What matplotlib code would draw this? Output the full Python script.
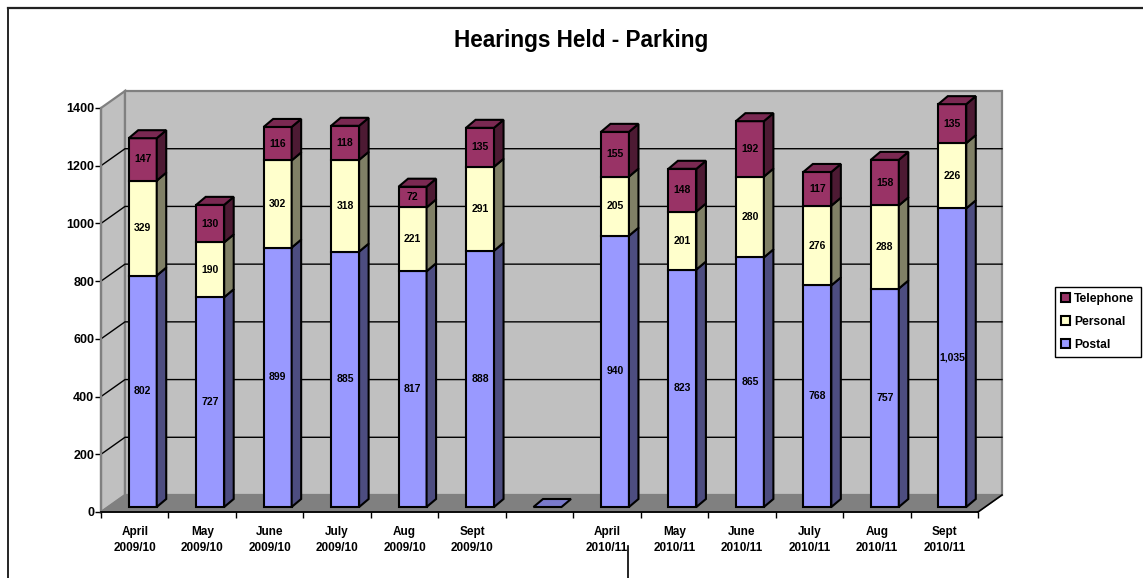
import matplotlib
matplotlib.use('Agg')
import matplotlib.pyplot as plt
from matplotlib.patches import Polygon, Patch
from matplotlib.lines import Line2D

# ---------------- data ----------------
categories = ["April\n2009/10", "May\n2009/10", "June\n2009/10", "July\n2009/10",
              "Aug\n2009/10", "Sept\n2009/10", "",
              "April\n2010/11", "May\n2010/11", "June\n2010/11", "July\n2010/11",
              "Aug\n2010/11", "Sept\n2010/11"]
postal = [802, 727, 899, 885, 817, 888, 0, 940, 823, 865, 768, 757, 1035]
personal = [329, 190, 302, 318, 221, 291, 0, 205, 201, 280, 276, 288, 226]
telephone = [147, 130, 116, 118, 72, 135, 0, 155, 148, 192, 117, 158, 135]
series_names = ["Postal", "Personal", "Telephone"]
y_ticks = [0, 200, 400, 600, 800, 1000, 1200, 1400]
title = "Hearings Held - Parking"

# ---------------- style ----------------
front_col = {"Postal": "#9999FF", "Personal": "#FFFFCC", "Telephone": "#993366"}
side_col = {"Postal": "#4D4D80", "Personal": "#808066", "Telephone": "#4D1A33"}
top_col = {"Postal": "#7A7ACC", "Personal": "#CCCCA3", "Telephone": "#7A2952"}

plt.rcParams['font.family'] = ['Liberation Sans', 'DejaVu Sans']
plt.rcParams['font.weight'] = 'bold'

W, H = 1143, 578
fig = plt.figure(figsize=(W / 100, H / 100), dpi=100)
fig.patch.set_facecolor('white')
ax = fig.add_axes([101 / W, 1 - 512 / H, 877 / W, 404 / H])
n = len(categories)
ymax = y_ticks[-1]
ax.set_xlim(-0.5, n - 0.5)
ax.set_ylim(0, ymax)
ax.patch.set_visible(False)

px_x = 877 / n
px_y = 404 / ymax
wdx, wdy = 24 / px_x, 17 / px_y      # wall depth
bfx, bfy = 8 / px_x, 5 / px_y        # bar front offset
bdx, bdy = 9.5 / px_x, 8 / px_y      # bar depth
bw = 28 / px_x                        # bar width
blw = 1.5                             # bar edge width

L, R = -0.5, n - 0.5
# walls
ax.add_patch(Polygon([(L, 0), (L + wdx, wdy), (L + wdx, ymax + wdy), (L, ymax)],
                     closed=True, fc='#C0C0C0', ec='#808080', lw=1.6, zorder=0.5, clip_on=False))
ax.add_patch(Polygon([(L + wdx, wdy), (R + wdx, wdy), (R + wdx, ymax + wdy), (L + wdx, ymax + wdy)],
                     closed=True, fc='#C0C0C0', ec='#808080', lw=1.6, zorder=0.5, clip_on=False))
# gridlines
for v in y_ticks[1:-1]:
    ax.add_line(Line2D([L, L + wdx, R + wdx], [v, v + wdy, v + wdy], color='black',
                       lw=1.0, zorder=0.7, clip_on=False))
# floor
ax.add_patch(Polygon([(L, 0), (R, 0), (R + wdx, wdy), (L + wdx, wdy)],
                     closed=True, fc='#808080', ec='#808080', lw=1.0, zorder=0.8, clip_on=False))
ax.add_line(Line2D([R, R + wdx], [0, wdy], color='black', lw=1.2, zorder=0.9, clip_on=False))

# bars
data = {"Postal": postal, "Personal": personal, "Telephone": telephone}
for i in range(n):
    cum = 0
    vals = [data[s][i] for s in series_names]
    top_idx = max([k for k, v in enumerate(vals) if v > 0], default=0)
    for k, s in enumerate(series_names):
        h = vals[k]
        b = bfy + cum
        xc = i + bfx
        x0, x1 = xc - bw / 2, xc + bw / 2
        if h > 0:
            ax.bar(xc, h, width=bw, bottom=b, color=front_col[s], edgecolor='black',
                   lw=blw, zorder=3, clip_on=False)
            ax.add_patch(Polygon([(x1, b), (x1 + bdx, b + bdy), (x1 + bdx, b + h + bdy), (x1, b + h)],
                                 closed=True, fc=side_col[s], ec='black', lw=blw, zorder=3,
                                 clip_on=False))
            ax.text(xc, b + h / 2, f"{h:,}", ha='center', va='center', fontsize=7.5,
                    fontweight='bold', zorder=5)
        if k == top_idx:
            t = b + h
            ax.add_patch(Polygon([(x0, t), (x1, t), (x1 + bdx, t + bdy), (x0 + bdx, t + bdy)],
                                 closed=True, fc=top_col[s], ec='black', lw=blw, zorder=3.5,
                                 clip_on=False))
        cum += h

# axes
for sp in ['top', 'right']:
    ax.spines[sp].set_visible(False)
ax.spines['left'].set_color('#808080')
ax.spines['left'].set_linewidth(1.6)
ax.spines['bottom'].set_color('black')
ax.spines['bottom'].set_linewidth(1.3)
ax.set_yticks(y_ticks)
ax.set_yticklabels([str(v) for v in y_ticks])
ax.tick_params(axis='y', length=4, width=1, color='black', pad=1, labelsize=9)
ax.set_xticks(range(n))
ax.set_xticklabels(categories)
ax.set_xticks([i - 0.5 for i in range(n + 1)], minor=True)
ax.tick_params(axis='x', which='major', length=0, pad=10, labelsize=8.5)
ax.tick_params(axis='x', which='minor', length=4.5, width=1, color='black')
for lbl in ax.get_xticklabels():
    lbl.set_linespacing(1.45)
    lbl.set_fontweight('bold')
for lbl in ax.get_yticklabels():
    lbl.set_fontweight('bold')

# title
fig.text(581 / W, 1 - 40 / H, title, ha='center', va='center', fontsize=16.3, fontweight='bold')

# legend
handles = [Patch(facecolor=front_col[s], edgecolor='black', lw=1.5) for s in series_names[::-1]]
leg = fig.legend(handles, series_names[::-1], loc='upper left',
                 bbox_to_anchor=(1055 / W, 1 - 287 / H), borderaxespad=0,
                 fontsize=8.7, handlelength=0.75, handleheight=0.75, handletextpad=0.35,
                 labelspacing=0.9, borderpad=0.5, fancybox=False, framealpha=1)
leg.get_frame().set_edgecolor('black')
leg.get_frame().set_linewidth(1.0)
for t in leg.get_texts():
    t.set_fontweight('bold')

# chart frame and stray line
fig.add_artist(Line2D([8 / W, 8 / W], [0, 1 - 8 / H], transform=fig.transFigure, color='black', lw=1.2))
fig.add_artist(Line2D([8 / W, 1], [1 - 8 / H, 1 - 8 / H], transform=fig.transFigure, color='#222222', lw=1.6))
fig.add_artist(Line2D([628 / W, 628 / W], [0, 1 - 546 / H], transform=fig.transFigure, color='black', lw=1.2))

fig.savefig('out.png', dpi=100)
